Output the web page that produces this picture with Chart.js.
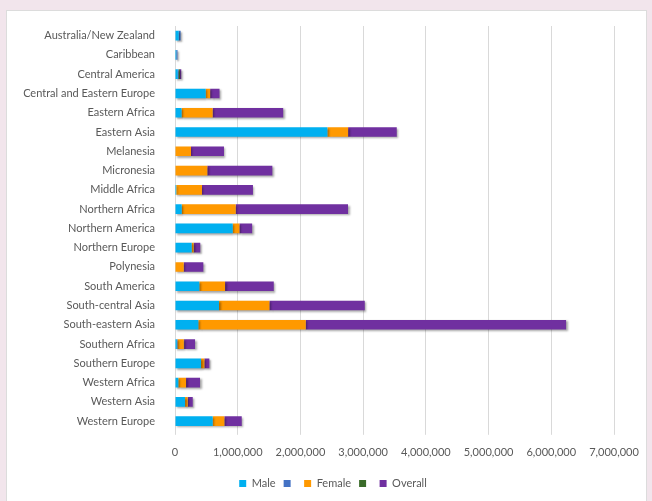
<!DOCTYPE html>
<html>
<head>
<meta charset="utf-8">
<script src="https://cdn.jsdelivr.net/npm/chart.js@4/dist/chart.umd.min.js"></script>
<style>
  html, body { margin: 0; padding: 0; }
  body { width: 652px; height: 501px; background: #f2e5ec; position: relative; overflow: hidden; }
  #panel { position: absolute; left: 6px; top: 10px; width: 639px; height: 500px; background: #fff; border: 1px solid #dcdcdc; }
  #chart { position: absolute; left: 0; top: 0; }
</style>
</head>
<body>
<div id="panel"></div>
<canvas id="chart" width="652" height="501"></canvas>
<script>
const categories = [
  "Australia/New Zealand", "Caribbean", "Central America", "Central and Eastern Europe",
  "Eastern Africa", "Eastern Asia", "Melanesia", "Micronesia", "Middle Africa",
  "Northern Africa", "Northern America", "Northern Europe", "Polynesia", "South America",
  "South-central Asia", "South-eastern Asia", "Southern Africa", "Southern Europe",
  "Western Africa", "Western Asia", "Western Europe"
];
const male    = [60000, 20000, 45000, 490000, 105000, 2430000, 0, 0, 20000, 107000, 920000, 266000, 0, 388000, 702000, 372000, 30000, 415000, 53000, 160000, 601000];
const blue    = [30000, 20000, 15000, 0, 0, 0, 0, 0, 0, 0, 0, 0, 0, 0, 0, 0, 10000, 0, 0, 0, 0];
const female  = [0, 0, 5000, 70000, 495000, 330000, 255000, 515000, 410000, 861000, 107000, 30000, 139000, 410000, 803000, 1713000, 100000, 53000, 123000, 43000, 186000];
const green   = [0, 0, 15000, 0, 0, 0, 0, 0, 0, 0, 0, 7000, 0, 0, 0, 0, 5000, 0, 0, 0, 0];
const overall = [0, 0, 20000, 150000, 1125000, 776000, 526000, 1037000, 813000, 1791000, 203000, 100000, 313000, 777000, 1521000, 4151000, 175000, 80000, 223000, 80000, 277000];
const xTicks = [0, 1000000, 2000000, 3000000, 4000000, 5000000, 6000000, 7000000];

const shadow = {
  id: "shadow",
  beforeDatasetsDraw(chart) {
    const ctx = chart.ctx;
    ctx.save();
    ctx.shadowColor = "rgba(0,0,0,0.35)";
    ctx.shadowBlur = 2;
    ctx.shadowOffsetX = 1.5;
    ctx.shadowOffsetY = 1.5;
  },
  afterDatasetsDraw(chart) {
    chart.ctx.restore();
  }
};

// legend in the picture sits a little right of centre
const legendShift = {
  id: "legendShift",
  afterLayout(chart) {
    chart.legend.left += 16;
    chart.legend.right += 16;
  }
};

const font = { family: "Lato", size: 11 };

new Chart(document.getElementById("chart"), {
  type: "bar",
  data: {
    labels: categories,
    datasets: [
      { label: "Male", data: male, backgroundColor: "#00b0f0" },
      { label: "", data: blue, backgroundColor: "#4472c4" },
      { label: "Female", data: female, backgroundColor: "#ff9900" },
      { label: "", data: green, backgroundColor: "#3a6b2a" },
      { label: "Overall", data: overall, backgroundColor: "#7030a0" }
    ]
  },
  options: {
    indexAxis: "y",
    responsive: false,
    animation: false,
    devicePixelRatio: 1,
    barPercentage: 0.5,
    categoryPercentage: 1,
    layout: { padding: { left: 20, right: 38, top: 26, bottom: 2 } },
    plugins: {
      legend: {
        position: "bottom",
        labels: { boxWidth: 7, boxHeight: 7, padding: 8, color: "#595959", font }
      },
      tooltip: { enabled: false }
    },
    scales: {
      x: {
        stacked: true,
        min: 0,
        max: 7000000,
        afterBuildTicks(scale) { scale.ticks = xTicks.map(v => ({ value: v })); },
        ticks: { color: "#595959", font, padding: 11, maxRotation: 0, autoSkip: false, callback: v => v.toLocaleString("en-US") },
        grid: { color: "#d9d9d9", tickLength: 4 },
        border: { display: false }
      },
      y: {
        stacked: true,
        afterFit(scale) { scale.width = 155; },
        ticks: { color: "#595959", font, padding: 12, autoSkip: false },
        grid: { display: false },
        border: { display: false }
      }
    }
  },
  plugins: [shadow, legendShift]
});
</script>
</body>
</html>
